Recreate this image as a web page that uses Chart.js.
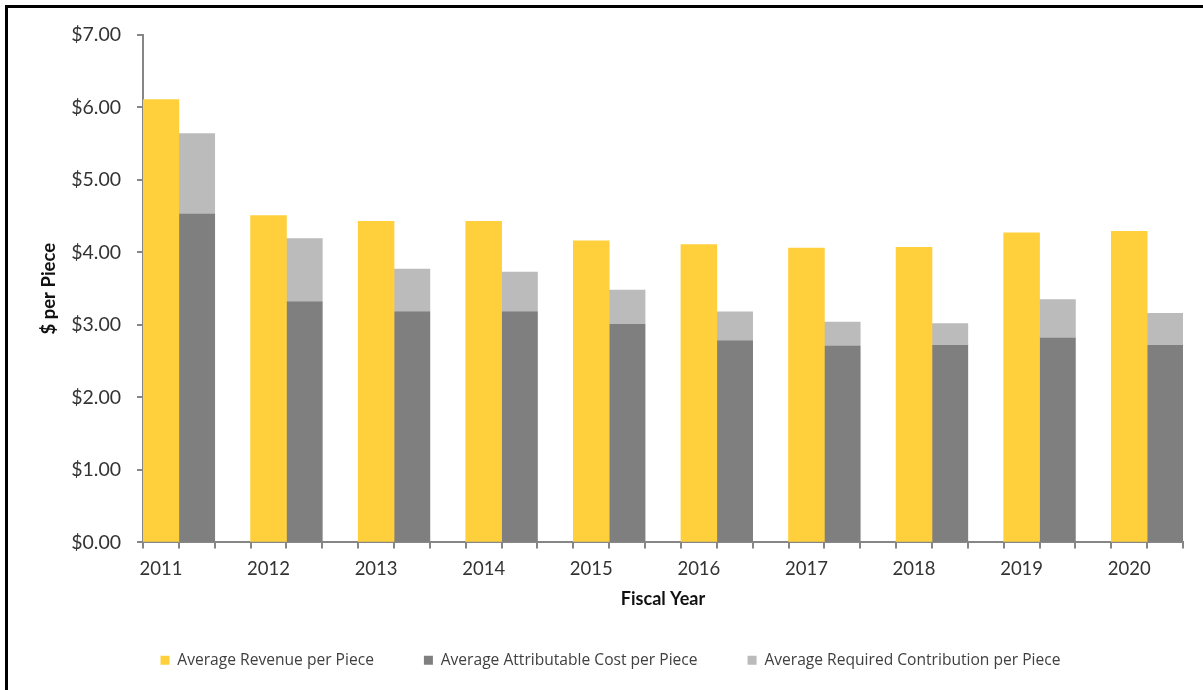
<!DOCTYPE html>
<html>
<head>
<meta charset="utf-8">
<title>Revenue and Cost per Piece</title>
<script src="https://cdn.jsdelivr.net/npm/chart.js@4.4.1/dist/chart.umd.min.js"></script>
<style>
  html, body { margin: 0; padding: 0; background: #fff; overflow: hidden; }
  .frame { position: absolute; left: 5px; top: 5px; width: 1400px; height: 900px; border: 3px solid #000; }
  .chart-box { position: absolute; left: 0; top: 0; width: 1203px; height: 690px; }
</style>
</head>
<body>
<div class="frame"></div>
<div class="chart-box"><canvas id="chart"></canvas></div>
<script>
const years = [2011, 2012, 2013, 2014, 2015, 2016, 2017, 2018, 2019, 2020];
const revenue = [6.11, 4.51, 4.43, 4.43, 4.16, 4.11, 4.06, 4.07, 4.27, 4.29];
const cost = [4.53, 3.32, 3.18, 3.18, 3.01, 2.78, 2.71, 2.72, 2.82, 2.72];
const contribution = [1.11, 0.87, 0.59, 0.55, 0.47, 0.40, 0.33, 0.30, 0.53, 0.44];

const YELLOW = '#FFCF3C';
const DARK = '#7F7F7F';
const LIGHT = '#BBBBBB';
const AXIS = '#868686';
const FONT = 'Lato, "Open Sans", sans-serif';

// every year gets three slots: revenue bar, cost stack, empty gap (no gap after the last year)
const slotLabels = [];
years.forEach(year => slotLabels.push(String(year), '', ''));
slotLabels.length = years.length * 3 - 1;

const inSlot = (values, offset) =>
  slotLabels.map((_, k) => (k % 3 === offset ? values[(k - offset) / 3] : null));

const ctx = document.getElementById('chart').getContext('2d');

new Chart(ctx, {
  type: 'bar',
  data: {
    labels: slotLabels,
    datasets: [
      { label: 'Average Revenue per Piece', data: inSlot(revenue, 0), backgroundColor: YELLOW },
      { label: 'Average Attributable Cost per Piece', data: inSlot(cost, 1), backgroundColor: DARK },
      { label: 'Average Required Contribution per Piece', data: inSlot(contribution, 1), backgroundColor: LIGHT },
    ],
  },
  options: {
    responsive: true,
    maintainAspectRatio: false,
    animation: false,
    barPercentage: 1,
    categoryPercentage: 1,
    layout: { padding: { left: 38, right: 20, top: 35, bottom: 12 } },
    plugins: {
      tooltip: { enabled: false },
      legend: {
        position: 'bottom',
        labels: {
          boxWidth: 9,
          boxHeight: 9,
          padding: 50,
          color: '#404040',
          font: { family: '"Open Sans", sans-serif', size: 15.6 },
        },
      },
    },
    scales: {
      x: {
        stacked: true,
        offset: true,
        afterFit: scale => { scale.height = 60; },
        grid: {
          offset: true,
          drawOnChartArea: false,
          drawTicks: true,
          tickLength: 6,
          color: AXIS,
          lineWidth: 2,
        },
        border: { display: true, color: AXIS, width: 2 },
        ticks: {
          autoSkip: false,
          maxRotation: 0,
          padding: 10,
          color: '#333',
          font: { family: FONT, size: 18.5 },
        },
        title: {
          display: true,
          text: 'Fiscal Year',
          color: '#111',
          padding: { top: 0, bottom: -8 },
          font: { family: FONT, size: 18, weight: 'bold' },
        },
      },
      y: {
        stacked: true,
        min: 0,
        max: 7,
        afterFit: scale => { scale.width = 143 - 38; },
        grid: {
          drawOnChartArea: false,
          drawTicks: true,
          tickLength: 6,
          color: AXIS,
          lineWidth: 2,
        },
        border: { display: true, color: AXIS, width: 2 },
        ticks: {
          stepSize: 1,
          padding: 16,
          color: '#333',
          font: { family: FONT, size: 19.5 },
          callback: v => '$' + Number(v).toFixed(2),
        },
        title: {
          display: true,
          text: '$ per Piece',
          color: '#111',
          padding: { top: 0, bottom: 0 },
          font: { family: FONT, size: 18.5, weight: 'bold' },
        },
      },
    },
  },
});
</script>
</body>
</html>
